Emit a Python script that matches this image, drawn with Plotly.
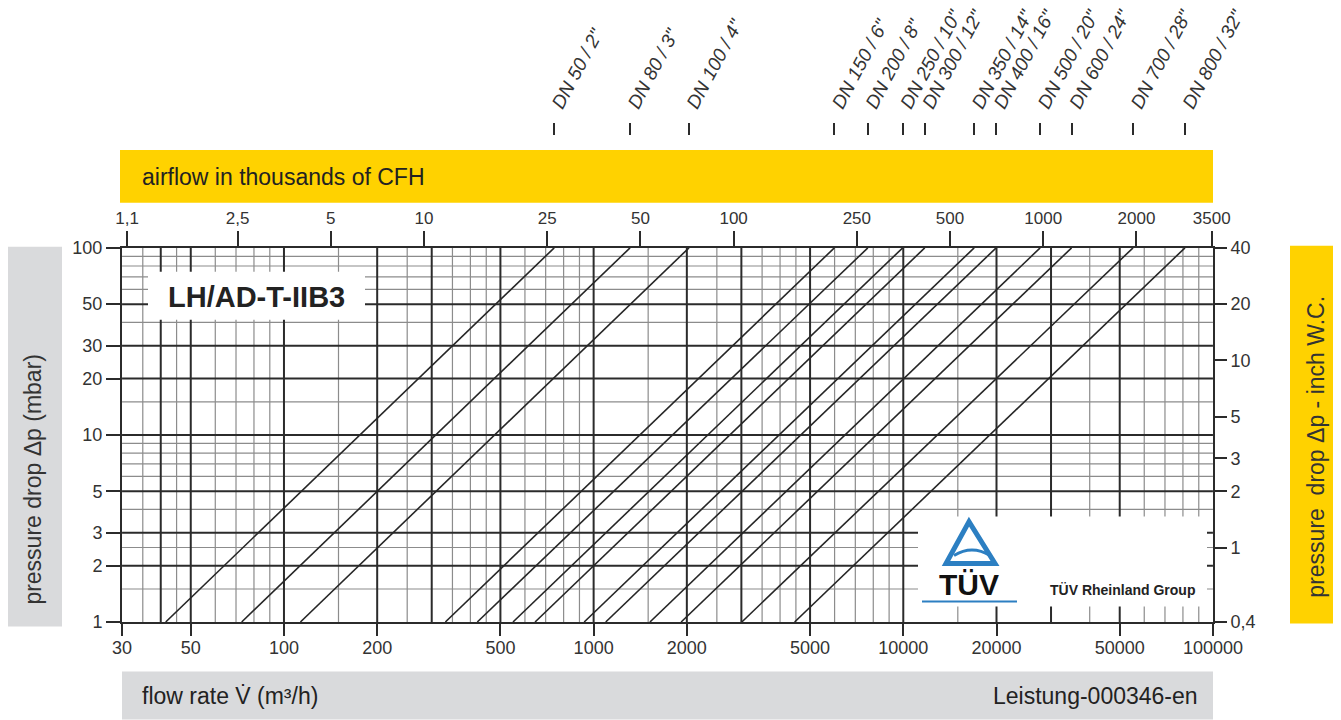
import math
import plotly.graph_objects as go

# ---------------- data ----------------
dn_labels = ['DN 50 / 2"', 'DN 80 / 3"', 'DN 100 / 4"', 'DN 150 / 6"', 'DN 200 / 8"',
             'DN 250 / 10"', 'DN 300 / 12"', 'DN 350 / 14"', 'DN 400 / 16"',
             'DN 500 / 20"', 'DN 600 / 24"', 'DN 700 / 28"', 'DN 800 / 32"']
flow_at_1mbar = [41.5, 73, 113, 332, 421, 549, 647, 932, 1094, 1520, 1917, 3010, 4457]
flow_at_100mbar = [746, 1311, 2032, 5990, 7684, 9957, 11730, 16940, 19950, 27670, 34960, 55200, 81220]
dp_end_points = [1, 100]

flow_ticks = [30, 50, 100, 200, 500, 1000, 2000, 5000, 10000, 20000, 50000, 100000]
flow_ticktext = ["30", "50", "100", "200", "500", "1000", "2000", "5000", "10000", "20000", "50000", "100000"]
dp_ticks = [1, 2, 3, 5, 10, 20, 30, 50, 100]
dp_ticktext = ["1", "2", "3", "5", "10", "20", "30", "50", "100"]
cfh_ticks = [1.1, 2.5, 5, 10, 25, 50, 100, 250, 500, 1000, 2000, 3500]
cfh_ticktext = ["1,1", "2,5", "5", "10", "25", "50", "100", "250", "500", "1000", "2000", "3500"]
inwc_ticks = [0.4, 1, 2, 3, 5, 10, 20, 40]
inwc_ticktext = ["0,4", "1", "2", "3", "5", "10", "20", "40"]

grid_flow_major = [40, 50, 100, 200, 300, 500, 1000, 2000, 3000, 5000, 10000, 20000, 30000, 50000]
grid_flow_minor = [35, 45, 60, 70, 80, 90, 150, 250, 350, 400, 450, 600, 700, 800, 900, 1500,
                   2500, 3500, 4000, 4500, 6000, 7000, 8000, 9000, 15000, 40000, 60000, 70000,
                   80000, 90000]
grid_dp_major = [2, 3, 5, 10, 20, 30, 50]
grid_dp_minor = [1.5, 2.5, 4, 6, 7, 8, 9, 15, 40, 60, 70, 80, 90]

flow_range = [30, 100000]
dp_range = [1, 100]
inwc_range = [0.4, 40]
M3H_PER_KCFH = 1000 / 35.3147   # 1000 ft3/h in m3/h

# ---------------- layout helpers (page pixel -> paper) ----------------
OFF = 8                      # page body margin
W, H = 1341 - OFF, 720 - OFF
ML, MR, MT, MB = 122 - OFF, 128, 20 - OFF, 97.5
PW = W - ML - MR
PH = H - MT - MB
Y_PLOT_TOP = 248


def px(x):
    return (x - OFF - ML) / PW


def py(y):
    return (H - MB - (y - OFF)) / PH


FONT = "Liberation Sans, Arial, sans-serif"
DARK = "#2b2b2b"
TXT = "#333333"

fig = go.Figure()


def seg_traces(vals, vertical, color, width):
    xs, ys = [], []
    for v in vals:
        if vertical:
            xs += [v, v, None]
            ys += [dp_range[0], dp_range[1], None]
        else:
            xs += [flow_range[0], flow_range[1], None]
            ys += [v, v, None]
    fig.add_trace(go.Scatter(x=xs, y=ys, mode="lines", line=dict(color=color, width=width),
                             hoverinfo="skip", showlegend=False))


seg_traces(grid_flow_minor, True, "#8c8c8c", 1.2)
seg_traces(grid_dp_minor, False, "#8c8c8c", 1.2)
seg_traces(grid_flow_major, True, DARK, 2)
seg_traces(grid_dp_major, False, DARK, 2)

for lab, v1, v100 in zip(dn_labels, flow_at_1mbar, flow_at_100mbar):
    fig.add_trace(go.Scatter(x=[v1, v100], y=dp_end_points, mode="lines", name=lab,
                             line=dict(color="#262626", width=1.6), showlegend=False))

# helper traces for secondary axes
fig.add_trace(go.Scatter(x=[cfh_ticks[3]], y=[inwc_ticks[3]], xaxis="x2", yaxis="y2",
                         mode="markers", marker=dict(opacity=0), hoverinfo="skip", showlegend=False))
fig.add_trace(go.Scatter(x=[flow_at_100mbar[0]], y=[dp_ticks[0]], xaxis="x3", yaxis="y",
                         mode="markers", marker=dict(opacity=0), hoverinfo="skip", showlegend=False))

ydom_top = py(Y_PLOT_TOP)
EPS = 2e-4
axis_common = dict(type="log", showgrid=False, zeroline=False, ticks="outside", automargin=False,
                   tickcolor=DARK, tickwidth=1.5, linecolor=DARK, linewidth=2,
                   tickfont=dict(family=FONT, size=18, color=TXT))

fig.update_layout(
    width=W, height=H,
    margin=dict(l=ML, r=MR, t=MT, b=MB, autoexpand=False),
    paper_bgcolor="white", plot_bgcolor="white",
    showlegend=False,
    xaxis=dict(axis_common, range=[math.log10(flow_range[0]) - EPS, math.log10(flow_range[1]) + EPS],
               tickmode="array", tickvals=flow_ticks, ticktext=flow_ticktext,
               ticklen=12, ticklabelstandoff=-4, showline=True, anchor="y"),
    yaxis=dict(axis_common, range=[math.log10(dp_range[0]) - EPS, math.log10(dp_range[1]) + EPS],
               domain=[0, ydom_top], tickmode="array", tickvals=dp_ticks, ticktext=dp_ticktext,
               ticklen=14, showline=True, anchor="x"),
    xaxis2=dict(axis_common, overlaying="x", side="top", anchor="y",
                range=[math.log10(flow_range[0] / M3H_PER_KCFH) - EPS,
                       math.log10(flow_range[1] / M3H_PER_KCFH) + EPS],
                tickmode="array", tickvals=cfh_ticks, ticktext=cfh_ticktext,
                ticklen=15, showline=True,
                tickfont=dict(family=FONT, size=17, color=TXT)),
    yaxis2=dict(axis_common, overlaying="y", side="right", anchor="x",
                range=[math.log10(inwc_range[0]) - EPS, math.log10(inwc_range[1]) + EPS],
                tickmode="array", tickvals=inwc_ticks, ticktext=inwc_ticktext,
                ticklen=12, showline=True),
    xaxis3=dict(type="log", overlaying="x", side="top", anchor="free", position=py(135),
                automargin=False,
                range=[math.log10(flow_range[0]) - EPS, math.log10(flow_range[1]) + EPS],
                tickmode="array", tickvals=flow_at_100mbar, ticktext=dn_labels,
                ticks="outside", ticklen=12, tickwidth=1.5, tickcolor=DARK,
                showline=False, showgrid=False, zeroline=False, tickangle=-62,
                tickfont=dict(family=FONT, size=19, color=TXT, style="italic")),
)

shapes = []
# bands
shapes.append(dict(type="rect", xref="paper", yref="paper", x0=px(120), x1=px(1213),
                   y0=py(203), y1=py(150), fillcolor="#FFD200", line=dict(width=0), layer="below"))
shapes.append(dict(type="rect", xref="paper", yref="paper", x0=px(5), x1=px(62),
                   y0=py(627), y1=py(247), fillcolor="#D9DADC", line=dict(width=0), layer="below"))
shapes.append(dict(type="rect", xref="paper", yref="paper", x0=px(1290), x1=px(1341),
                   y0=py(624), y1=py(246), fillcolor="#FFD200", line=dict(width=0), layer="below"))
shapes.append(dict(type="rect", xref="paper", yref="paper", x0=px(122), x1=px(1213),
                   y0=py(720), y1=py(672), fillcolor="#D9DADC", line=dict(width=0), layer="below"))
# white label boxes
shapes.append(dict(type="rect", xref="paper", yref="paper", x0=px(148), x1=px(365),
                   y0=py(320), y1=py(272), fillcolor="white", line=dict(width=0), layer="above"))
shapes.append(dict(type="rect", xref="paper", yref="paper", x0=px(918), x1=px(1207),
                   y0=py(607), y1=py(517), fillcolor="white", line=dict(width=0), layer="above"))


def ppath(points, close=True):
    s = "M " + " L ".join(f"{px(x):.5f},{py(y):.5f}" for x, y in points)
    return s + (" Z" if close else "")


BLUE = "#2C7FC2"
shapes.append(dict(type="path", xref="paper", yref="paper",
                   path=ppath([(969, 522), (946, 564), (995, 564)]),
                   line=dict(color=BLUE, width=5), fillcolor="rgba(0,0,0,0)", layer="above"))
shapes.append(dict(type="path", xref="paper", yref="paper",
                   path=f"M {px(954):.5f},{py(556):.5f} Q {px(972):.5f},{py(545):.5f} {px(990):.5f},{py(556):.5f}",
                   line=dict(color=BLUE, width=3), layer="above"))
shapes.append(dict(type="line", xref="paper", yref="paper", x0=px(922), x1=px(1017),
                   y0=py(602), y1=py(602), line=dict(color=BLUE, width=2), layer="above"))
fig.update_layout(shapes=shapes)

ann = []
ann.append(dict(text="airflow in thousands of CFH", x=px(140), y=py(177), xanchor="left",
                yanchor="middle", font=dict(family=FONT, size=23, color="#222")))
ann.append(dict(text="pressure drop Δp (mbar)", x=px(33), y=py(480), textangle=-90,
                xanchor="center", yanchor="middle", font=dict(family=FONT, size=23, color="#333")))
ann.append(dict(text="pressure\u00a0 drop Δp - inch W.C.", x=px(1316), y=py(447), textangle=-90,
                xanchor="center", yanchor="middle", font=dict(family=FONT, size=23, color="#333")))
ann.append(dict(text="flow rate V\u0307 (m³/h)", x=px(140), y=py(697), xanchor="left",
                yanchor="middle", font=dict(family=FONT, size=23, color="#222")))
ann.append(dict(text="Leistung-000346-en", x=px(1200), y=py(697), xanchor="right",
                yanchor="middle", font=dict(family=FONT, size=23, color="#222")))
ann.append(dict(text="<b>LH/AD-T-IIB3</b>", x=px(256), y=py(297), xanchor="center",
                yanchor="middle", font=dict(family=FONT, size=29, color="#222")))
ann.append(dict(text="<b>TÜV</b>", x=px(969), y=py(585), xanchor="center",
                yanchor="middle", font=dict(family=FONT, size=30, color="#111")))
ann.append(dict(text="<b>TÜV Rheinland Group</b>", x=px(1122), y=py(590), xanchor="center",
                yanchor="middle", font=dict(family=FONT, size=14, color="#222")))
for a in ann:
    a.update(xref="paper", yref="paper", showarrow=False)
fig.update_layout(annotations=ann)

fig.write_html("out.html")
